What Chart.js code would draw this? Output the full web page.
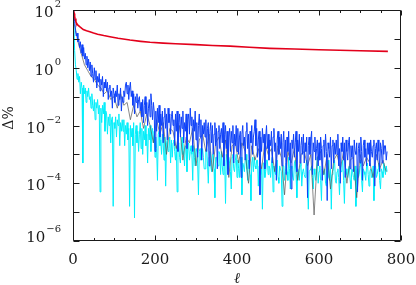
<!DOCTYPE html>
<html>
<head>
<meta charset="utf-8">
<script src="https://cdn.jsdelivr.net/npm/chart.js@4.4.1/dist/chart.umd.min.js"></script>
<style>
  html, body { margin: 0; padding: 0; background: #fff; }
</style>
</head>
<body>
<canvas id="chart" width="416" height="285"></canvas>
<script>
// --- Axis ticks ---
const xMajorTicks = [0, 200, 400, 600, 800];
const xMinorTicks = [50, 100, 150, 250, 300, 350, 450, 500, 550, 650, 700, 750];
const yDecades = [2, 1, 0, -1, -2, -3, -4, -5, -6];
const yLabelExps = [2, 0, -2, -4, -6];

// --- Red curve ---
const redEll = [1, 2, 3, 4, 5, 7, 9, 12, 17, 25, 33, 41, 50, 60, 75, 90, 110, 139, 165, 188,
                220, 250, 300, 340, 383, 430, 480, 540, 600, 650, 700, 768];
const redVal = [100, 85, 75, 60, 51, 40, 34, 30, 26, 21, 19, 17.7, 16, 14.5, 13, 11.8, 10.5, 9.1, 8.2, 7.6,
                7.1, 6.8, 6.3, 5.9, 5.6, 5.1, 4.7, 4.45, 4.2, 4.05, 3.9, 3.7];

// --- Noisy series, stored as log10 values ---
// blue + cyan sampled at ell = 2, 4, 6, ... 766
const sampleStart = 2;
const sampleStep = 2;
const blueLog = [
  1.95, 1.6, 1.3, 1.1, 1.2, 0.9, 1.0, 0.7, 0.9, 0.5, 0.8, 0.4, 0.7, 0.3, 0.5, 0.1, 0.4, 0.0, 0.3, -0.1,
  0.2, -0.3, 0.1, -0.2, -0.5, 0.0, -0.4, -0.1, -0.7, -0.3, -0.5, -0.2, -0.8, -0.4, -0.6, -0.3, -1.0, -0.5, -0.7, -0.4,
  -0.8, -0.5, -1.1, -0.7, -0.6, -1.0, -0.8, -1.4, -0.7, -0.9, -1.2, -0.8, -1.0, -0.6, -1.3, -0.9, -1.1, -0.7, -1.5, -1.0,
  -1.2, -0.8, -1.0, -0.6, -0.5, -0.9, -0.6, -1.1, -0.7, -0.5, -1.0, -0.8, -1.3, -0.9, -1.6, -1.0, -1.2, -0.9, -1.4, -1.1,
  -1.0, -1.5, -1.2, -1.7, -1.1, -1.9, -1.3, -1.0, -1.6, -1.2, -2.0, -1.4, -1.1, -1.7, -0.9, -1.3, -1.8, -1.2, -1.5, -2.9,
  -1.5, -2.2, -1.4, -1.9, -1.3, -2.4, -1.6, -2.0, -1.5, -2.6, -1.7, -1.4, -2.1, -1.6, -2.5, -1.4, -1.9, -1.6, -2.3, -1.7,
  -1.5, -2.0, -1.8, -2.7, -1.6, -2.2, -1.5, -2.9, -1.9, -1.6, -2.4, -1.7, -2.1, -1.5, -2.6, -1.9, -2.2, -1.6, -2.8, -1.8,
  -1.6, -2.3, -1.4, -2.0, -1.7, -2.9, -1.8, -2.2, -1.5, -2.5, -1.9, -3.1, -2.0, -1.6, -2.4, -1.8, -3.2, -2.0, -2.3, -1.9,
  -2.4, -1.8, -2.9, -2.1, -1.9, -3.4, -2.2, -1.9, -2.6, -2.0, -3.0, -2.3, -1.9, -2.7, -2.1, -3.5, -2.2, -2.0, -2.8, -2.3,
  -2.1, -2.6, -1.9, -3.4, -2.3, -2.0, -2.8, -2.2, -3.7, -2.4, -2.1, -2.9, -2.2, -2.6, -2.0, -3.3, -2.3, -2.7, -2.0, -2.9,
  -2.1, -3.0, -2.4, -2.2, -3.8, -2.3, -2.0, -2.7, -2.4, -3.2, -2.2, -1.9, -2.8, -2.3, -3.5, -2.2, -2.6, -2.0, -3.0, -2.4,
  -2.2, -1.8, -2.7, -2.1, -3.1, -2.5, -2.2, -4.4, -2.4, -2.9, -2.1, -2.6, -2.3, -3.5, -2.4, -2.0, -2.8, -2.3, -3.2, -2.5,
  -2.7, -2.2, -3.3, -2.4, -2.1, -2.9, -2.6, -3.9, -2.5, -2.2, -3.0, -2.4, -2.8, -2.3, -3.4, -2.6, -2.2, -3.1, -2.5, -3.7,
  -2.4, -2.9, -2.2, -3.2, -2.6, -4.2, -2.5, -2.8, -2.3, -3.1, -2.6, -2.2, -3.6, -2.5, -2.9, -2.3, -3.3, -2.7, -2.4, -3.0,
  -2.3, -3.3, -2.6, -2.9, -2.4, -4.5, -2.7, -2.4, -3.0, -2.5, -2.2, -3.7, -2.6, -2.9, -2.4, -3.2, -2.8, -2.5, -3.4, -2.6,
  -3.2, -2.4, -2.8, -3.9, -2.7, -2.5, -3.1, -2.3, -2.9, -4.6, -2.6, -2.8, -3.1, -2.4, -3.5, -2.7, -2.5, -3.3, -2.6, -3.0,
  -2.5, -3.0, -2.3, -3.4, -2.8, -4.0, -2.6, -2.9, -2.4, -3.2, -2.6, -3.8, -2.5, -2.9, -3.2, -2.6, -2.4, -3.5, -2.7, -3.1,
  -2.7, -3.6, -2.5, -2.9, -3.0, -2.6, -4.3, -2.8, -2.6, -3.3, -2.4, -2.9, -3.9, -2.7, -2.5, -3.1, -2.8, -3.4, -2.6, -3.0,
  -2.6, -3.4, -2.5, -2.9, -3.1, -2.7, -2.5, -4.1, -2.8, -2.6, -3.2, -2.5, -2.9, -3.6, -2.6, -2.8, -3.3, -2.5, -3.0, -2.7,
  -2.7, -3.2, -2.9
];
const cyanLog = [
  1.7, 0.6, 0.1, -0.1, -0.4, -0.2, -0.5, -0.3, -0.9, -0.5, -0.7, -3.3, -0.6, -0.9, -0.7, -1.2, -0.8, -1.0, -0.7, -1.1,
  -1.0, -1.4, -0.9, -1.3, -1.5, -1.1, -1.8, -1.2, -1.4, -1.1, -1.6, -1.3, -4.3, -1.4, -1.9, -1.3, -1.6, -1.2, -2.2, -1.5,
  -1.6, -2.3, -1.7, -2.0, -1.6, -2.6, -1.8, -1.7, -4.8, -1.9, -2.1, -1.7, -2.4, -1.8, -2.0, -1.6, -2.7, -1.9, -2.2, -1.8,
  -2.2, -1.8, -2.7, -2.0, -2.3, -1.9, -2.5, -2.1, -4.8, -2.0, -2.4, -2.1, -2.7, -1.9, -5.2, -2.3, -2.0, -2.6, -2.2, -2.9,
  -2.3, -1.9, -2.8, -2.1, -3.0, -2.2, -2.5, -2.0, -2.7, -2.3, -3.3, -2.1, -2.5, -2.0, -2.9, -2.3, -2.1, -2.6, -2.2, -3.1,
  -2.4, -2.8, -3.9, -2.3, -2.2, -2.7, -2.5, -3.0, -2.3, -2.6, -3.2, -2.4, -4.1, -2.6, -2.5, -2.9, -2.8, -2.4, -3.3, -2.5,
  -3.1, -2.6, -2.5, -2.9, -3.2, -2.7, -4.3, -2.8, -2.6, -3.1, -3.3, -2.6, -2.4, -3.0, -2.9, -3.4, -2.7, -2.8, -3.6, -2.7,
  -2.6, -3.2, -2.9, -2.7, -3.0, -3.9, -2.7, -3.1, -3.4, -2.8, -2.9, -3.3, -4.4, -2.9, -2.8, -3.2, -3.0, -2.8, -3.1, -3.5,
  -3.5, -2.9, -2.8, -3.3, -4.0, -3.1, -2.9, -3.4, -3.6, -3.0, -3.0, -3.5, -4.5, -3.1, -3.1, -3.3, -3.4, -2.9, -3.0, -3.7,
  -2.9, -3.4, -3.7, -3.1, -3.2, -4.7, -3.0, -3.3, -3.5, -3.1, -3.3, -3.6, -4.2, -3.1, -3.0, -3.5, -3.6, -3.2, -3.0, -3.8,
  -3.2, -3.5, -3.8, -3.1, -3.1, -4.4, -3.3, -3.4, -3.6, -3.2, -3.0, -3.5, -3.9, -3.2, -3.4, -3.7, -4.6, -3.3, -3.1, -3.6,
  -3.1, -3.4, -3.5, -3.2, -3.2, -4.1, -3.4, -3.3, -3.7, -3.5, -4.9, -3.3, -3.3, -3.8, -3.6, -3.2, -3.2, -3.7, -3.4, -3.5,
  -3.8, -3.3, -3.1, -4.3, -3.4, -3.6, -3.7, -3.3, -3.2, -3.8, -4.0, -3.4, -3.5, -3.6, -4.8, -3.4, -3.4, -3.9, -3.6, -3.3,
  -3.6, -3.9, -3.1, -3.5, -4.2, -3.4, -3.5, -3.8, -3.9, -3.3, -3.2, -3.7, -4.5, -3.5, -3.6, -3.9, -3.4, -3.3, -4.1, -3.6,
  -3.5, -3.7, -3.8, -3.4, -3.2, -4.1, -4.9, -3.6, -3.6, -3.5, -3.4, -3.8, -4.2, -3.5, -3.7, -3.9, -3.5, -3.1, -4.0, -3.6,
  -3.4, -3.9, -4.6, -3.5, -3.7, -3.6, -3.5, -4.0, -4.1, -3.4, -3.2, -3.8, -3.9, -3.5, -4.9, -3.7, -3.6, -3.4, -3.2, -3.9,
  -4.0, -3.6, -3.5, -3.8, -4.4, -3.5, -3.6, -3.4, -3.2, -3.9, -4.7, -3.6, -3.5, -3.7, -3.8, -3.5, -3.4, -3.9, -4.2, -3.5,
  -3.6, -3.8, -3.9, -3.4, -4.8, -3.6, -3.5, -3.8, -3.7, -3.4, -3.2, -3.9, -4.3, -3.5, -3.6, -3.7, -3.9, -3.4, -3.3, -3.7,
  -4.1, -3.6, -3.5, -3.8, -3.8, -3.4, -4.6, -3.6, -3.4, -3.8, -3.7, -3.5, -3.3, -3.9, -4.2, -3.5, -3.6, -3.8, -3.3, -3.5,
  -3.7, -3.4, -3.6
];
// dark series sampled at ell = 4, 12, 20, ... 764
const darkStart = 4;
const darkStep = 8;
const darkLog = [
  1.5, 0.9, 0.5, 0.1, -0.1, -0.3, -0.4, -0.6, -0.7, -0.9,
  -0.8, -1.1, -1.0, -1.4, -0.9, -1.3, -1.2, -1.8, -1.3, -1.7,
  -1.5, -2.1, -1.6, -2.0, -2.6, -1.8, -2.3, -1.9, -3.0, -2.1,
  -2.2, -2.8, -2.0, -3.2, -2.4, -2.6, -2.1, -3.4, -2.5, -2.3,
  -2.9, -2.3, -3.6, -2.6, -2.4, -3.1, -2.5, -3.8, -2.7, -2.6,
  -3.3, -2.6, -2.9, -4.0, -2.7, -3.2, -2.8, -3.5, -2.6, -3.0,
  -2.8, -3.6, -2.7, -3.1, -4.4, -2.9, -3.3, -2.8, -3.9, -3.0,
  -2.9, -3.4, -3.0, -5.1, -3.1, -2.9, -3.7, -3.0, -4.2, -3.2,
  -3.0, -3.5, -2.9, -4.0, -3.2, -3.1, -4.5, -3.0, -3.4, -3.1,
  -3.3, -3.8, -3.0, -3.5, -3.2, -3.6
];

function logSeries(start, step, logs) {
    return logs.map((v, i) => ({ x: start + step * i, y: Math.pow(10, v) }));
}

const SERIF = '"DejaVu Serif", "Liberation Serif", serif';

// Frame, inward ticks and IDL-like labels
const framePlugin = {
    id: 'frame',
    afterDraw(chart) {
        const ctx = chart.ctx;
        const a = chart.chartArea;
        const xs = chart.scales.x;
        const ys = chart.scales.y;
        const L = Math.round(a.left) + 0.5, R = Math.round(a.right) - 0.5;
        const T = Math.round(a.top) + 0.5, B = Math.round(a.bottom) - 0.5;

        ctx.save();
        ctx.strokeStyle = '#1a1a1a';
        ctx.lineWidth = 1;
        ctx.beginPath();
        ctx.rect(L, T, R - L, B - T);

        const xt = xMajorTicks.map(v => [v, 5]).concat(xMinorTicks.map(v => [v, 2.5]));
        xt.forEach(([v, len]) => {
            const px = Math.round(xs.getPixelForValue(v)) + 0.5;
            ctx.moveTo(px, B); ctx.lineTo(px, B - len);
            ctx.moveTo(px, T); ctx.lineTo(px, T + len);
        });
        yDecades.forEach(e => {
            const py = Math.round(ys.getPixelForValue(Math.pow(10, e))) + 0.5;
            ctx.moveTo(L, py); ctx.lineTo(L + 6, py);
            ctx.moveTo(R, py); ctx.lineTo(R - 6, py);
        });
        ctx.stroke();

        ctx.fillStyle = '#1a1a1a';
        ctx.textBaseline = 'alphabetic';

        // x tick labels
        ctx.font = '15px ' + SERIF;
        ctx.textAlign = 'center';
        xMajorTicks.forEach(v => {
            ctx.fillText(String(v), xs.getPixelForValue(v), a.bottom + 23);
        });

        // y tick labels: 10 with superscript exponent
        const rightEdge = a.left - 12;
        yLabelExps.forEach((e, i) => {
            const py = ys.getPixelForValue(Math.pow(10, e));
            const base = (i === yLabelExps.length - 1) ? py + 1 : py + 7;
            const expText = e < 0 ? '\u2212' + (-e) : String(e);
            ctx.textAlign = 'right';
            ctx.font = '10px ' + SERIF;
            const expW = ctx.measureText(expText).width;
            ctx.fillText(expText, rightEdge, base - 10);
            ctx.font = '15px ' + SERIF;
            ctx.fillText('10', rightEdge - expW - 1, base);
        });

        // axis titles
        ctx.textAlign = 'center';
        ctx.font = 'italic 15px ' + SERIF;
        ctx.fillText('\u2113', (a.left + a.right) / 2, 283);

        ctx.translate(13, 118);
        ctx.rotate(-Math.PI / 2);
        ctx.font = '14px ' + SERIF;
        ctx.fillText('\u0394%', 0, 0);
        ctx.restore();
    }
};

new Chart(document.getElementById('chart').getContext('2d'), {
    type: 'line',
    data: {
        datasets: [
            {
                label: 'red',
                data: redEll.map((l, i) => ({ x: l, y: redVal[i] })),
                borderColor: '#e3001b',
                borderWidth: 1.6
            },
            {
                label: 'blue',
                data: logSeries(sampleStart, sampleStep, blueLog),
                borderColor: '#0d40f8',
                borderWidth: 1
            },
            {
                label: 'dark',
                data: logSeries(darkStart, darkStep, darkLog),
                borderColor: '#555555',
                borderWidth: 0.7
            },
            {
                label: 'cyan',
                data: logSeries(sampleStart, sampleStep, cyanLog),
                borderColor: '#00eefa',
                borderWidth: 1
            }
        ]
    },
    options: {
        responsive: false,
        animation: false,
        devicePixelRatio: 1,
        layout: { padding: { top: 10, right: 15, left: 0, bottom: 0 } },
        elements: {
            point: { radius: 0 },
            line: { tension: 0 }
        },
        plugins: {
            legend: { display: false },
            tooltip: { enabled: false }
        },
        scales: {
            x: {
                type: 'linear', min: 0, max: 800,
                ticks: { display: false },
                grid: { display: false },
                border: { display: false },
                afterFit(s) { s.height = 44; }
            },
            y: {
                type: 'logarithmic', min: 1e-6, max: 1e2,
                ticks: { display: false },
                grid: { display: false },
                border: { display: false },
                afterFit(s) { s.width = 73; }
            }
        }
    },
    plugins: [framePlugin]
});
</script>
</body>
</html>
